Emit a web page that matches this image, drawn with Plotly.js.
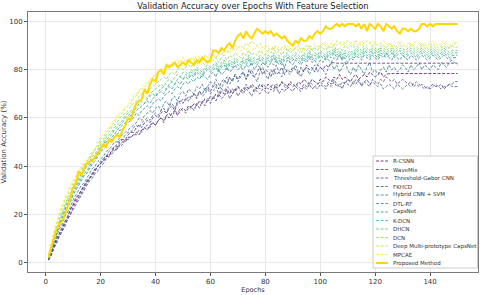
<!DOCTYPE html>
<html><head><meta charset="utf-8">
<script src="https://cdn.plot.ly/plotly-3.0.1.min.js"></script>
<style>html,body{margin:0;padding:0;background:#fff}#chart{width:480px;height:295px}</style>
</head><body><div id="chart"></div>
<script>
const epochs = Array.from({length: 150}, (_, i) => i + 1);

const seriesNames = ["R-CSNN","WaveMix","Threshold-Gabor CNN","FKHCD","Hybrid CNN + SVM","DTL-RF","CapsNet","K-DCN","DHCN","DCN","Deep Multi-prototype CapsNet","MPCAE","Proposed Method"];
const seriesColors = ["#440154","#482173","#433e85","#38598c","#2d708e","#25858e","#1e9b8a","#2ab07f","#52c569","#86d549","#c2df23","#fde725","#FFD700"];

const rcsnn = [1,4,7,10,12,14,17,19,22,24, 27,28,30,32,34,35,37,39,40,41, 42,44,44,46,47,47,49,50,50,52, 52,53,54,53,55,56,55,57,58,57,
 59,60,59,61,60,62,63,61,63,64, 63,65,64,66,65,67,66,68,67,69, 68,70,69,71,70,72,70,72,71,73, 72,71,73,72,74,73,72,74,73,72,
 74,73,72,74,73,75,74,73,75,74, 73,75,74,76,75,74,76,75,74,76, 75,77,76,75,77,76,78,76,77,76, 75,77,78,76,77,78,77,79,78,77,
 78,79,77,78,78.4,78.4,78.4,78.4,78.4,78.4, 78.4,78.4,78.4,78.4,78.4,78.4,78.4,78.4,78.4,78.4, 78.4,78.4,78.4,78.4,78.4,78.4,78.4,78.4,78.4,78.4];
const wavemix = [1,3,6,9,11,13,15,18,20,23, 25,27,29,31,33,35,36,38,40,41, 43,44,45,46,48,48,50,51,51,53, 54,54,56,57,56,58,59,58,60,61,
 60,62,63,62,64,65,63,66,67,66, 68,67,69,70,68,71,70,72,73,71, 73,74,72,75,76,74,77,75,78,76, 78,79,76,80,78,77,79,81,78,80,
 79,77,80,78,79,81,78,80,79,81, 80,78,81,79,82,80,81,79,82,81, 80,82,81,83,82.7,82.7,82.7,82.7,82.7,82.7, 82.7,82.7,82.7,82.7,82.7,82.7,82.7,82.7,82.7,82.7,
 82.7,82.7,82.7,82.7,82.7,82.7,82.7,82.7,82.7,82.7, 82.7,82.7,82.7,82.7,82.7,82.7,82.7,82.7,82.7,82.7, 82.7,82.7,82.7,82.7,82.7,82.7,82.7,82.7,82.7,82.7];
const gabor = [1,3,6,8,11,13,16,18,20,22, 24,26,28,30,32,34,35,37,38,40, 41,43,44,45,46,48,48,49,51,51, 52,53,53,55,54,56,57,56,58,57,
 59,60,58,61,62,60,63,62,64,63, 62,64,65,63,66,64,67,65,68,66, 69,67,70,68,69,71,68,70,72,69, 71,70,72,71,69,72,71,70,72,71,
 70,72,71,73,70,72,71,73,72,71, 73,72,71,73,72,74,72,73,72,74, 73,72,74,73,75,73,74,72,75,74, 73,75,74,76,73,75,74,73,76,75,
 74,76,75,77,76,75,76,74,75,76, 75,74,75,73,74,73,74,73,72,73, 74,73,73,74,72,73,74,74,75,75];
const fkhcd = [1,4,7,10,12,15,17,19,22,24, 26,28,30,32,33,35,37,38,40,42, 43,44,46,47,48,49,51,51,53,54, 54,56,57,56,58,59,60,59,61,62,
 61,63,64,62,65,66,64,67,66,68, 67,69,68,70,69,71,69,70,72,70, 71,73,70,72,71,73,72,70,72,73, 71,72,74,72,73,71,73,72,74,73,
 72,73,74,72,73,75,73,72,74,73, 74,73,72,74,73,75,74,73,74,75, 74,73,75,74,76,74,73,75,74,76, 75,74,76,75,74,75,76,74,75,74,
 73,74,72,73,74,73,72,74,73,72, 73,74,73,74,75,74,73,72,73,72, 73,74,73,72,73,73,74,73,73,73];
const hybrid = [1,4,8,11,14,16,19,21,23,26, 28,30,32,33,35,37,39,40,42,43, 44,46,47,48,50,50,52,53,54,55, 56,57,58,60,59,61,62,63,62,64,
 65,63,66,67,65,68,69,67,70,71, 69,72,71,70,73,72,74,71,73,75, 73,76,74,72,75,77,74,76,78,75, 77,79,76,78,80,77,75,79,81,78,
 76,80,78,82,79,77,81,79,78,80, 82,79,77,80,81,78,80,82,79,81, 80,78,81,83,80,82,79,81,83,80, 78,81,79,82,80,78,81,83,79,80,
 78,80,81,79,82,80,81,79,80,82, 81,79,82,80,81,83,80,82,81,80, 82,81,80,83,82,81,83,84,83,82];
const dtlrf = [2,5,9,12,15,18,20,23,25,28, 30,32,34,36,37,39,41,42,44,46, 47,48,50,51,52,53,55,55,57,58, 59,60,62,61,63,64,65,64,66,67,
 68,67,69,70,71,70,72,73,72,74, 75,74,76,75,77,76,78,77,76,78, 79,77,80,78,79,81,79,80,82,80, 81,80,82,81,83,80,82,81,83,82,
 81,83,82,84,82,83,81,84,83,82, 84,83,82,84,83,85,83,84,82,84, 83,85,84,83,85,84,86,84,85,83, 85,84,86,85,84,86,85,84,86,85,
 84,86,85,87,85,84,86,85,84,86, 85,84,86,85,84,85,86,85,84,85, 86,85,84,85,86,85,84,85,85,85];
const capsnet = [2,5,9,13,16,18,21,24,26,29, 31,33,35,37,38,40,42,43,45,47, 48,50,51,52,53,55,56,57,58,60, 61,62,63,64,65,66,67,66,68,69,
 70,71,70,72,73,72,74,75,74,76, 77,76,78,77,79,78,77,79,80,79, 80,81,79,81,82,80,82,81,83,82, 81,83,82,84,82,83,82,84,83,82,
 84,83,85,83,84,82,84,85,83,84, 85,84,83,85,84,86,84,85,84,86, 85,84,86,85,87,85,86,84,86,85, 86,85,87,86,85,87,86,85,87,86,
 85,87,86,85,86,87,85,86,87,86, 85,86,87,86,85,86,87,86,85,86, 87,86,85,86,87,86,85,86,86,86];
const kdcn = [2,6,10,13,16,19,22,25,27,30, 32,34,36,38,40,41,43,44,46,48, 49,51,52,53,55,56,57,58,60,61, 62,63,64,66,67,66,68,69,70,69,
 71,72,73,72,74,75,74,76,77,76, 78,77,79,78,80,79,78,80,81,80, 81,82,80,82,83,81,83,82,84,83, 82,84,83,85,83,84,83,85,84,83,
 85,84,86,84,85,83,85,86,84,85, 86,85,84,86,85,87,85,86,85,87, 86,85,87,86,88,86,87,85,87,86, 87,86,88,87,86,88,87,86,88,87,
 86,88,87,86,87,88,86,87,88,87, 86,87,88,87,86,87,88,87,86,87, 88,87,86,87,88,87,86,87,87,87];
const dhcn = [2,6,10,14,17,20,23,26,28,31, 33,35,37,39,41,42,44,45,47,49, 50,52,53,54,56,57,58,59,61,62, 63,64,66,67,68,69,68,70,71,72,
 73,74,73,75,76,75,77,78,77,79, 79,78,80,79,81,80,79,81,82,81, 82,83,81,83,84,82,84,83,85,84, 83,85,84,86,84,85,84,86,85,84,
 86,85,87,85,86,84,86,87,85,86, 87,86,85,87,86,88,86,87,86,88, 87,86,88,87,89,87,88,86,88,87, 88,87,89,88,87,89,88,87,89,88,
 87,89,88,87,88,89,87,88,89,88, 87,88,89,88,87,88,89,88,87,88, 89,88,87,88,89,88,87,88,88,88];
const dcn = [3,7,11,15,18,21,24,27,29,32, 34,36,38,40,42,43,45,47,48,50, 51,53,54,56,57,58,60,61,62,63, 65,66,67,69,70,71,70,72,73,74,
 75,76,77,76,78,79,78,80,81,80, 81,82,81,83,82,84,83,82,84,83, 84,85,83,85,86,84,86,85,87,86, 85,87,86,88,86,87,86,88,87,86,
 88,87,89,87,88,86,88,89,87,88, 89,88,87,89,88,90,88,89,88,90, 89,88,90,89,90,88,89,88,90,89, 90,89,90,89,88,90,89,88,90,89,
 88,90,89,88,89,90,88,89,90,89, 88,89,90,89,88,89,90,89,88,89, 90,89,88,89,90,89,89,90,89,89.5];
const deepMulti = [3,8,12,16,20,23,26,28,31,33, 35,37,39,41,42,44,46,47,49,51, 52,54,55,57,58,60,61,62,64,65, 66,68,69,71,72,73,74,75,77,78,
 79,80,79,81,82,81,83,82,84,83, 84,83,85,84,83,85,84,86,85,84, 86,85,87,86,88,87,89,88,90,89, 90,89,91,90,92,91,90,91,89,90,
 89,88,90,89,88,89,90,88,89,88, 89,90,88,89,90,89,88,90,89,90, 91,90,89,91,90,92,91,90,91,92, 91,90,92,91,90,91,92,91,90,91,
 90,91,90,89,91,90,89,90,91,90, 89,90,91,90,89,90,91,90,89,90, 91,90,89,90,91,90,89,90,91,90];
const mpcae = [3,8,13,17,21,24,27,29,32,34, 36,38,40,42,43,43,45,47,50,52, 53,55,56,58,59,61,62,63,65,66, 67,69,70,71,73,74,75,76,77,78,
 79,80,81,80,82,83,82,84,83,85, 84,83,85,84,86,85,84,86,85,87, 86,87,86,88,87,88,87,89,88,89, 88,89,88,90,89,88,90,89,88,89,
 90,89,88,90,89,88,89,90,89,88, 89,90,89,88,90,89,90,91,90,89, 90,91,90,89,91,90,91,92,91,90, 91,92,91,90,92,91,90,91,92,91,
 90,91,92,91,90,91,90,91,92,91, 90,91,90,91,92,91,90,91,90,91, 92,91,90,91,92,91,90,91,92,91];
const proposed = [2,6,10,14,16,17,20,23,27,31, 33,38,36,39,41,42,42,44,45,47, 49,48,51,50,52,53,52,55,57,60, 59,63,66,67,68,72,70,74,76,75,
 79,80,78,82,81,82,83,81,82,83, 82,84,83,82,84,83,85,84,83,84, 88,88,87,89,88,90,91,89,92,94, 95,93,96,94,93,95,97,96,95,96,
 95,96,94,95,94,93,94,92,91,90, 92,91,93,92,92,94,93,95,96,95, 96,98,97,97,98,99,98,99,98,99, 99,99,98,99,97,99,96,99,98,97,
 99,98,96,99,98,97,98,96,95,97, 97,96,97,96,96,97,99,99,98,99, 98,99,99,99,99,99,99,99,99,99];

const seriesValues = [rcsnn, wavemix, gabor, fkhcd, hybrid, dtlrf, capsnet, kdcn, dhcn, dcn, deepMulti, mpcae, proposed];
const xTicks = [0, 20, 40, 60, 80, 100, 120, 140];
const yTicks = [0, 20, 40, 60, 80, 100];

const DASH = '3px,1.6px';
const nS = seriesValues.length;
const traces = seriesValues.map((vals, i) => {
  const isProp = i === nS - 1;
  return {
    x: epochs, y: vals, type: 'scatter', mode: 'lines', name: seriesNames[i], showlegend: false,
    line: {color: seriesColors[i], width: isProp ? 2 : 1, dash: isProp ? 'solid' : DASH},
    opacity: isProp ? 1 : 0.75
  };
});

// Plot area in pixels: left 28, right 478, top 12, bottom 272
const PL = 28, PR = 478, PT = 12, PB = 272;
const px = v => (v - PL) / (PR - PL);
const py = v => (PB - v) / (PB - PT);

// Legend drawn as paper-referenced shapes and annotations
const shapes = [{type: 'rect', xref: 'paper', yref: 'paper', x0: px(373), x1: px(477.5), y0: py(268), y1: py(156),
  fillcolor: 'rgba(255,255,255,0.92)', line: {color: '#cccccc', width: 1}, layer: 'above'}];
const annotations = [];
seriesNames.forEach((name, i) => {
  const isProp = i === nS - 1;
  const yy = 161 + i * 8.5;
  shapes.push({type: 'line', xref: 'paper', yref: 'paper', x0: px(376), x1: px(388), y0: py(yy), y1: py(yy), layer: 'above',
    line: {color: seriesColors[i], width: isProp ? 2 : 1, dash: isProp ? 'solid' : DASH}, opacity: isProp ? 1 : 0.75});
  annotations.push({xref: 'paper', yref: 'paper', x: px(391), y: py(yy), xanchor: 'left', yanchor: 'middle', showarrow: false,
    text: name, font: {size: 5.5, color: '#333'}});
});

const axisCommon = {
  showline: true, mirror: true, linecolor: '#7a7a7a', linewidth: 1,
  ticks: 'outside', ticklen: 3, tickcolor: '#555', tickwidth: 1,
  showgrid: true, gridcolor: '#e8e8e8', gridwidth: 1,
  zeroline: false, tickfont: {size: 7, color: '#333'}
};

const layout = {
  width: 480, height: 295,
  margin: {l: 28, r: 2, t: 12, b: 23},
  paper_bgcolor: '#fff', plot_bgcolor: '#fff',
  font: {family: 'DejaVu Sans, sans-serif', color: '#333'},
  title: {text: 'Validation Accuracy over Epochs With Feature Selection', font: {size: 8.3, color: '#222'}, x: 0.527, xanchor: 'center', y: 0.988, yanchor: 'top'},
  xaxis: Object.assign({}, axisCommon, {range: [-6.45, 157.45], tickvals: xTicks, title: {text: 'Epochs', font: {size: 6.5}, standoff: 2}}),
  yaxis: Object.assign({}, axisCommon, {range: [-3.95, 103.95], tickvals: yTicks, title: {text: 'Validation Accuracy (%)', font: {size: 7}, standoff: 4}}),
  showlegend: false,
  shapes: shapes,
  annotations: annotations
};

Plotly.newPlot('chart', traces, layout, {displayModeBar: false, staticPlot: true});
</script></body></html>
